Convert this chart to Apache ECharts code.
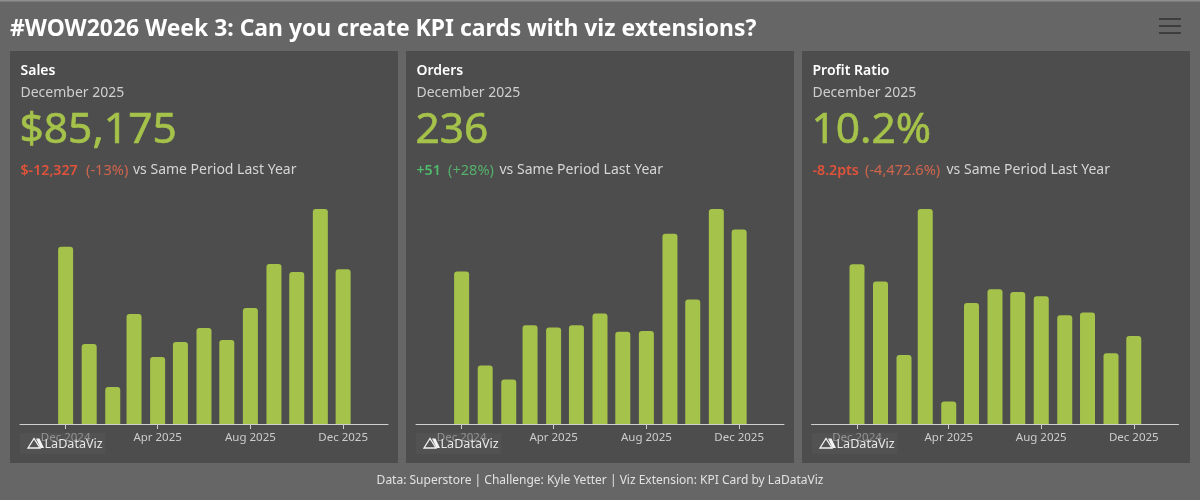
<!DOCTYPE html>
<html><head><meta charset="utf-8">
<style>html,body{margin:0;padding:0;background:#666}#c{width:1200px;height:500px}</style>
<script src="https://cdn.jsdelivr.net/npm/echarts@6/dist/echarts.min.js"></script>
</head><body><div id="c"></div>
<script>
const months = ['2024-12-01','2025-01-01','2025-02-01','2025-03-01','2025-04-01','2025-05-01','2025-06-01','2025-07-01','2025-08-01','2025-09-01','2025-10-01','2025-11-01','2025-12-01'];
const salesValues = [97502,44000,20300,60500,36800,45100,52800,46200,63800,88000,83600,118300,85175];
const ordersValues = [185,71,54,120,117,120,134,112,113,231,151,261,236];
const profitRatioValues = [18.5,16.5,8.0,24.9,2.6,14.0,15.6,15.3,14.8,12.6,12.9,8.2,10.2];
const tickDates = ['2024-12-01','2025-04-01','2025-08-01','2025-12-01'];
const tickLabels = ['Dec 2024','Apr 2025','Aug 2025','Dec 2025'];
const titleText = '#WOW2026 Week 3: Can you create KPI cards with viz extensions?';
const footerText = 'Data: Superstore | Challenge: Kyle Yetter | Viz Extension: KPI Card by LaDataViz';

const FONT = '"Noto Sans", sans-serif';
const GREEN = '#a5c24a', RED = '#e0533a', RED2 = '#d0654e', UP = '#4fba6a', UP2 = '#55b06c';
const cards = [
  {name:'Sales', big:'$85,175', values:salesValues, d1:'$-12,327', d2:'(-13%)', c1:RED, c2:RED2, panel:10, gl:20, gw:368, x2:86, x3:133},
  {name:'Orders', big:'236', values:ordersValues, d1:'+51', d2:'(+28%)', c1:UP, c2:UP2, panel:406, gl:416, gw:368, x2:448, x3:499.5},
  {name:'Profit Ratio', big:'10.2%', values:profitRatioValues, d1:'-8.2pts', d2:'(-4,472.6%)', c1:RED, c2:RED2, panel:802, gl:811.5, gw:367, x2:865, x3:946.5}
];
const toDay = s => new Date(s + 'T00:00:00Z').getTime() / 86400000;
const tickDays = tickDates.map(toDay);

function text(x, y, t, size, fill, weight, z, align, stroke) {
  const style = {text:t, fontFamily:FONT, fontSize:size, fill, fontWeight:weight||'normal', textVerticalAlign:'middle', textAlign:align||'left'};
  if (stroke) { style.stroke = fill; style.lineWidth = stroke; }
  return {type:'text', x, y, z: z||5, silent:true, style};
}
const graphic = [
  {type:'rect', shape:{x:0,y:0,width:1200,height:500}, z:-10, silent:true, style:{fill:'#666666'}},
  {type:'rect', shape:{x:0,y:0,width:1200,height:1.5}, z:-9, silent:true, style:{fill:'#8f8f8f'}},
  text(10, 29.5, titleText, 22.9, '#ffffff', 'bold'),
  text(600, 481, footerText, 12, '#e2e2e2', 'normal', 5, 'center')
];
[19,26,33].forEach(y => graphic.push({type:'rect', shape:{x:1159,y:y-1,width:22,height:2}, z:5, silent:true, style:{fill:'#3d3d3d'}}));
cards.forEach(c => {
  const tx = c.panel + 10.5;
  const p = c.panel;
  graphic.push({type:'rect', shape:{x:p,y:51,width:388,height:412}, z:-8, silent:true, style:{fill:'#4d4d4d'}});
  graphic.push(text(tx, 71.5, c.name, 14, '#ffffff', '600'));
  graphic.push(text(tx, 93, 'December 2025', 14, '#cfcfcf'));
  graphic.push(text(tx - 1, 131, c.big, 42.5, GREEN, 'normal', 5, 'left', 0.6));
  graphic.push(text(tx, 170.5, c.d1, 14.2, c.c1, '600'));
  graphic.push(text(c.x2, 170.5, c.d2, 14.6, c.c2));
  graphic.push(text(c.x3, 170.5, 'vs Same Period Last Year', 14, '#d6d6d6'));
  graphic.push({type:'rect', shape:{x:p+10,y:433,width:85.5,height:21}, z:8, silent:true, style:{fill:'rgba(88,88,88,0.5)'}});
  graphic.push({type:'polygon', shape:{points:[[p+18,448],[p+24,438.5],[p+30,448]]}, z:9, silent:true, style:{fill:'none', stroke:'#f2f2f2', lineWidth:1.3}});
  graphic.push({type:'polygon', shape:{points:[[p+26,438.5],[p+29.5,438.5],[p+34,448],[p+30.5,448]]}, z:9, silent:true, style:{fill:'#f2f2f2'}});
  graphic.push(text(p+34.5, 444.5, 'LaDataViz', 12.6, '#e8e8e8', 'normal', 9));
});

const grid = [], xAxis = [], yAxis = [], series = [];
cards.forEach((c, i) => {
  grid.push({left:c.gl, width:c.gw, top:209, height:215, containLabel:false});
  xAxis.push({type:'value', gridIndex:i, min:toDay('2024-10-02'), max:toDay('2026-01-29'),
    splitLine:{show:false},
    axisLine:{show:true, onZero:false, lineStyle:{color:'#cfcfcf', width:1}},
    axisTick:{show:true, length:5, customValues:tickDays, lineStyle:{color:'#cfcfcf', width:1}},
    minorTick:{show:false},
    axisLabel:{show:true, customValues:tickDays, margin:8, hideOverlap:false,
      color:'#cccccc', fontFamily:FONT, fontSize:11.5,
      formatter:v => tickLabels[tickDays.indexOf(v)] || ''}
  });
  yAxis.push({type:'value', gridIndex:i, min:0, max:Math.max(...c.values), show:false, splitLine:{show:false}});
  series.push({type:'bar', name:c.name, xAxisIndex:i, yAxisIndex:i, barWidth:15, animation:false,
    itemStyle:{color:GREEN, borderRadius:[3,3,0,0]},
    data:months.map((m, j) => [toDay(m), c.values[j]])});
});
const chart = echarts.init(document.getElementById('c'), null, {renderer:'canvas'});
chart.setOption({animation:false, backgroundColor:'#666666', grid, xAxis, yAxis, series, graphic:{elements:graphic}, tooltip:{show:false}});
</script></body></html>
